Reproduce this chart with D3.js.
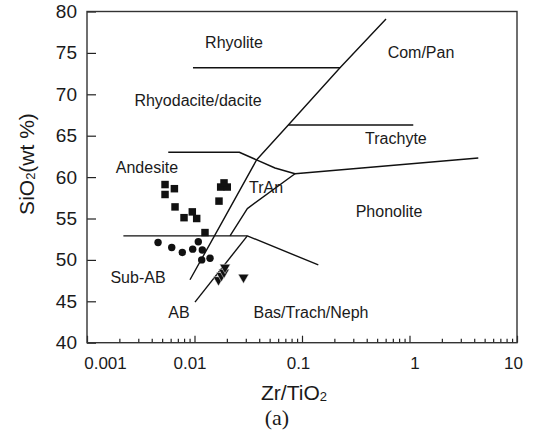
<!DOCTYPE html>
<html>
<head>
<meta charset="utf-8">
<script src="https://cdn.jsdelivr.net/npm/d3@7"></script>
<style>
  body { margin: 0; background: #fff; }
  svg { display: block; }
  text { font-family: "Liberation Sans", Arial, sans-serif; fill: #1a1a1a; }
</style>
</head>
<body>
<div id="chart"></div>
<script>
// axis ticks
const xTicks = [0.001, 0.01, 0.1, 1, 10];
const yTicks = [40, 45, 50, 55, 60, 65, 70, 75, 80];

// samples: [Zr/TiO2, SiO2]
const squares = [
  [0.00532, 59.1], [0.0065, 58.6], [0.00532, 57.9], [0.00659, 56.4],
  [0.00799, 55.1], [0.00954, 55.8], [0.01048, 55.0], [0.01252, 53.3],
  [0.0169, 57.1], [0.01752, 58.8], [0.02018, 58.8], [0.01882, 59.3]
];
const circles = [
  [0.00458, 52.1], [0.00614, 51.5], [0.0077, 50.9], [0.00962, 51.3],
  [0.01085, 52.2], [0.01182, 51.2], [0.01167, 50.0], [0.01394, 50.2]
];
const triangles = [
  [0.01672, 47.6], [0.01783, 48.1], [0.01882, 48.5], [0.01922, 49.1], [0.02856, 47.9]
];

// field boundaries (Winchester & Floyd)
const boundaries = [
  [[0.6045, 79.1], [0.2257, 73.2], [0.0746, 66.3], [0.0379, 62.1], [0.0185, 54.8], [0.00908, 47.6]],
  [[0.00968, 73.2], [0.2257, 73.2]],
  [[0.0746, 66.3], [1.084, 66.3]],
  [[0.0057, 63.0], [0.0261, 63.0], [0.0561, 61.1], [0.0861, 60.4], [4.365, 62.3]],
  [[0.0861, 60.4], [0.031, 56.2], [0.0214, 52.9]],
  [[0.00218, 52.9], [0.031, 52.9], [0.1418, 49.4]],
  [[0.031, 52.9], [0.0101, 44.9]]
];

const fields = [
  { name: "Rhyolite", x: 0.0233, y: 76.2 },
  { name: "Com/Pan", x: 1.279, y: 75.1 },
  { name: "Rhyodacite/dacite", x: 0.01078, y: 69.3 },
  { name: "Trachyte", x: 0.748, y: 64.7 },
  { name: "Andesite", x: 0.00361, y: 61.1 },
  { name: "TrAn", x: 0.0463, y: 58.7 },
  { name: "Phonolite", x: 0.645, y: 55.8 },
  { name: "Sub-AB", x: 0.00298, y: 47.9 },
  { name: "AB", x: 0.00717, y: 43.7 },
  { name: "Bas/Trach/Neph", x: 0.1213, y: 43.7 }
];

const width = 534, height = 437;
const plot = { left: 87, right: 517, top: 11.5, bottom: 342.7 };

const svg = d3.select("#chart").append("svg")
  .attr("width", width)
  .attr("height", height);

const x = d3.scaleLog().domain([0.001, 10]).range([plot.left, plot.right]);
const y = d3.scaleLinear().domain([40, 80]).range([plot.bottom, plot.top]);

// minor ticks on the log axis
const minor = [];
xTicks.slice(0, -1).forEach(t => {
  for (let k = 2; k <= 9; k++) minor.push(t * k);
});

svg.append("g")
  .attr("transform", `translate(0,${plot.bottom})`)
  .call(d3.axisBottom(x).tickValues(minor).tickSizeInner(-4).tickSizeOuter(0).tickFormat(""))
  .call(g => g.select(".domain").remove())
  .call(g => g.selectAll("line").attr("stroke", "#222").attr("stroke-width", 1.2));

// label nudges copied from the figure
const xShift = { 0.001: 18, 0.01: -5, 0.1: -4, 1: 5, 10: -4 };

svg.append("g")
  .attr("transform", `translate(0,${plot.bottom})`)
  .call(d3.axisBottom(x).tickValues(xTicks).tickSizeInner(-7).tickSizeOuter(0)
    .tickPadding(14).tickFormat(d => String(d)))
  .call(g => g.select(".domain").remove())
  .call(g => g.selectAll("line").attr("stroke", "#222").attr("stroke-width", 1.2))
  .call(g => g.selectAll("text")
    .attr("dx", d => xShift[d] || 0)
    .style("font-size", "17px")
    .style("font-family", "'Liberation Sans', Arial, sans-serif")
    .attr("fill", "#1a1a1a"));

svg.append("g")
  .attr("transform", `translate(${plot.left},0)`)
  .call(d3.axisLeft(y).tickValues(yTicks).tickSizeInner(-9).tickSizeOuter(0).tickPadding(10))
  .call(g => g.select(".domain").remove())
  .call(g => g.selectAll("line").attr("stroke", "#222").attr("stroke-width", 1.2))
  .call(g => g.selectAll("text")
    .style("font-size", "19px")
    .style("font-family", "'Liberation Sans', Arial, sans-serif")
    .attr("fill", "#1a1a1a"));

// frame
svg.append("rect")
  .attr("x", plot.left).attr("y", plot.top)
  .attr("width", plot.right - plot.left).attr("height", plot.bottom - plot.top)
  .attr("fill", "none")
  .attr("stroke", "#333")
  .attr("stroke-width", 1.4);

const line = d3.line().x(d => x(d[0])).y(d => y(d[1]));

svg.append("g").selectAll("path")
  .data(boundaries)
  .join("path")
  .attr("d", line)
  .attr("fill", "none")
  .attr("stroke", "#111")
  .attr("stroke-width", 1.4)
  .attr("stroke-linejoin", "round");

svg.append("g").selectAll("text")
  .data(fields)
  .join("text")
  .attr("x", d => x(d.x))
  .attr("y", d => y(d.y))
  .attr("text-anchor", "middle")
  .attr("dominant-baseline", "central")
  .style("font-size", "16px")
  .text(d => d.name);

// samples
const pts = svg.append("g");

pts.selectAll(".sq")
  .data(squares)
  .join("path")
  .attr("class", "sq")
  .attr("transform", d => `translate(${x(d[0])},${y(d[1])})`)
  .attr("d", d3.symbol(d3.symbolSquare, 56))
  .attr("fill", "#111");

pts.selectAll(".ci")
  .data(circles)
  .join("circle")
  .attr("class", "ci")
  .attr("cx", d => x(d[0]))
  .attr("cy", d => y(d[1]))
  .attr("r", 3.7)
  .attr("fill", "#111");

pts.selectAll(".tr")
  .data(triangles)
  .join("path")
  .attr("class", "tr")
  .attr("transform", d => `translate(${x(d[0])},${y(d[1])}) rotate(180)`)
  .attr("d", d3.symbol(d3.symbolTriangle, 50))
  .attr("fill", "#111")
  .attr("stroke", "#fff")
  .attr("stroke-width", 0.5);

// axis titles
const yTitle = svg.append("text")
  .attr("transform", "translate(26,164) rotate(-90)")
  .attr("text-anchor", "middle")
  .attr("dominant-baseline", "central")
  .style("font-size", "21px");
yTitle.append("tspan").text("SiO");
yTitle.append("tspan").attr("dy", 4).style("font-size", "13px").text("2");
yTitle.append("tspan").attr("dy", -4).text("(wt %)");

const xTitle = svg.append("text")
  .attr("x", 294)
  .attr("y", 392)
  .attr("text-anchor", "middle")
  .attr("dominant-baseline", "central")
  .style("font-size", "21px");
xTitle.append("tspan").text("Zr/TiO");
xTitle.append("tspan").attr("dy", 4).style("font-size", "13px").text("2");

svg.append("text")
  .attr("x", 277)
  .attr("y", 417)
  .attr("text-anchor", "middle")
  .attr("dominant-baseline", "central")
  .style("font-family", "'Liberation Serif', 'Times New Roman', serif")
  .style("font-size", "22px")
  .text("(a)");
</script>
</body>
</html>
